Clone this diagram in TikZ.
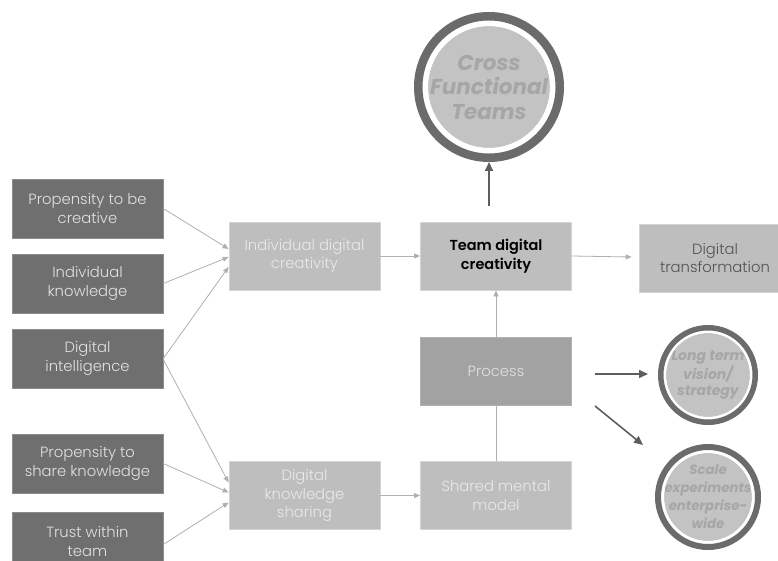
\documentclass[tikz,border=0pt]{standalone}
\usepackage{fontspec}
\setmainfont{Poppins}[UprightFont=* Light, BoldFont=* SemiBold, ItalicFont=* Light Italic, BoldItalicFont=* Bold Italic]
\usetikzlibrary{arrows.meta,calc}
\definecolor{darkbox}{HTML}{6F6F6F}
\definecolor{lightbox}{HTML}{BEBEBE}
\definecolor{lightedge}{HTML}{D4D4D4}
\definecolor{procbox}{HTML}{A2A2A2}
\definecolor{darktext}{HTML}{E2E2E2}
\definecolor{paletext}{HTML}{E9E9E9}
\definecolor{conn}{HTML}{B0B0B0}
\definecolor{darkarrow}{HTML}{5E5E5E}
\definecolor{ring}{HTML}{6B6B6B}
\definecolor{circfill}{HTML}{C3C3C3}
\definecolor{circtext}{HTML}{A6A6A6}
\tikzset{
  basebox/.style={rectangle, align=center, inner sep=2pt, font=\fontsize{14.8}{18.5}\selectfont},
  darkbox/.style={basebox, fill=darkbox, draw=darkbox!80!white, line width=0.6pt, text=darktext, minimum width=151pt, minimum height=59pt},
  lightbox/.style={basebox, fill=lightbox, draw=lightedge, line width=0.8pt, text=paletext, minimum width=151pt, minimum height=68pt},
  conn/.style={draw=conn, line width=0.8pt, -{Triangle[length=6pt,width=5pt]}},
  connplain/.style={draw=conn, line width=0.8pt},
  darkarr/.style={draw=darkarrow, line width=1.6pt, -{Triangle[length=9pt,width=8pt]}},
  circtxt/.style={align=center, text=circtext, font=\bfseries\itshape}
}
\begin{document}
\begin{tikzpicture}[x=1pt,y=-1pt]
\useasboundingbox (0,0) rectangle (778,561);
\fill[white] (0,0) rectangle (778,561);
% left inputs
\node[darkbox] (p1) at (87.5,208.5) {Propensity to be\\creative};
\node[darkbox] (p2) at (87.5,283.5) {Individual\\knowledge};
\node[darkbox] (p3) at (87.5,358.5) {Digital\\intelligence};
\node[darkbox] (p4) at (87.5,463.5) {Propensity to\\share knowledge};
\node[darkbox] (p5) at (87.5,541.5) {Trust within\\team};
% middle boxes
\node[lightbox] (idc) at (304.5,256) {Individual digital\\creativity};
\node[lightbox, text=black, font=\bfseries\fontsize{14.5}{18.5}\selectfont] (team) at (496,256) {Team digital\\creativity};
\node[lightbox, text=black!68, minimum width=152pt] (dt) at (715,258) {Digital\\transformation};
\node[lightbox, fill=procbox, draw=procbox!85!white, text=darktext] (proc) at (496,371) {Process};
\node[lightbox] (dks) at (304.5,495.5) {Digital\\knowledge\\sharing};
\node[lightbox] (smm) at (496,495.5) {Shared mental\\model};
% circles
\node[circle, fill=circfill, minimum size=122pt, inner sep=0pt] (cft) at (489,87) {};
\node[circtxt, font=\bfseries\itshape\fontsize{21.5}{24.5}\selectfont] at (cft.center) {Cross\\Functional\\Teams};
\draw[white, line width=5pt] (cft.center) circle[radius=63.5];
\draw[ring, line width=8.5pt] (cft.center) circle[radius=70.75];
\node[circle, fill=circfill, minimum size=84pt, inner sep=0pt] (ltv) at (708,375) {};
\node[circtxt, font=\bfseries\itshape\fontsize{14}{16}\selectfont] at (ltv.center) {Long term\\vision/\\strategy};
\draw[white, line width=3pt] (ltv.center) circle[radius=43.5];
\draw[ring, line width=5.5pt] (ltv.center) circle[radius=47.25];
\node[circle, fill=circfill, minimum size=88pt, inner sep=0pt] (sew) at (708,497) {};
\node[circtxt, font=\bfseries\itshape\fontsize{13.3}{18}\selectfont] at (sew.center) {Scale\\experiments\\enterprise-\\wide};
\draw[white, line width=3pt] (sew.center) circle[radius=45.5];
\draw[ring, line width=6pt] (sew.center) circle[radius=50];
% connectors
\draw[conn] (p1.east) -- ([yshift=7pt]idc.west);
\draw[conn] (p2.east) -- ([yshift=-1pt]idc.west);
\draw[conn] (p3.east) -- ([yshift=-11pt]idc.west);
\draw[conn] ([yshift=-1pt]p3.east) -- ([yshift=13pt]dks.west);
\draw[conn] (p4.east) -- ([yshift=3pt]dks.west);
\draw[conn] ([yshift=-3pt]p5.east) -- ([yshift=-7pt]dks.west);
\draw[conn] (idc.east) -- (team.west);
\draw[conn] (team.east) -- ([xshift=-7pt,yshift=-1pt]team.east -| dt.west);
\draw[conn] (proc.north) -- (team.south);
\draw[connplain] (smm.north) -- (proc.south);
\draw[conn] (dks.east) -- (smm.west);
% dark arrows
\coordinate (upS) at (489,206);
\coordinate (upE) at (489,162);
\draw[darkarr] (upS) -- (upE);
\coordinate (a1s) at (595,374);
\coordinate (a1e) at (648,374);
\draw[darkarr] (a1s) -- (a1e);
\coordinate (a2s) at (595,406);
\coordinate (a2e) at (643,445);
\draw[darkarr] (a2s) -- (a2e);
\end{tikzpicture}
\end{document}
